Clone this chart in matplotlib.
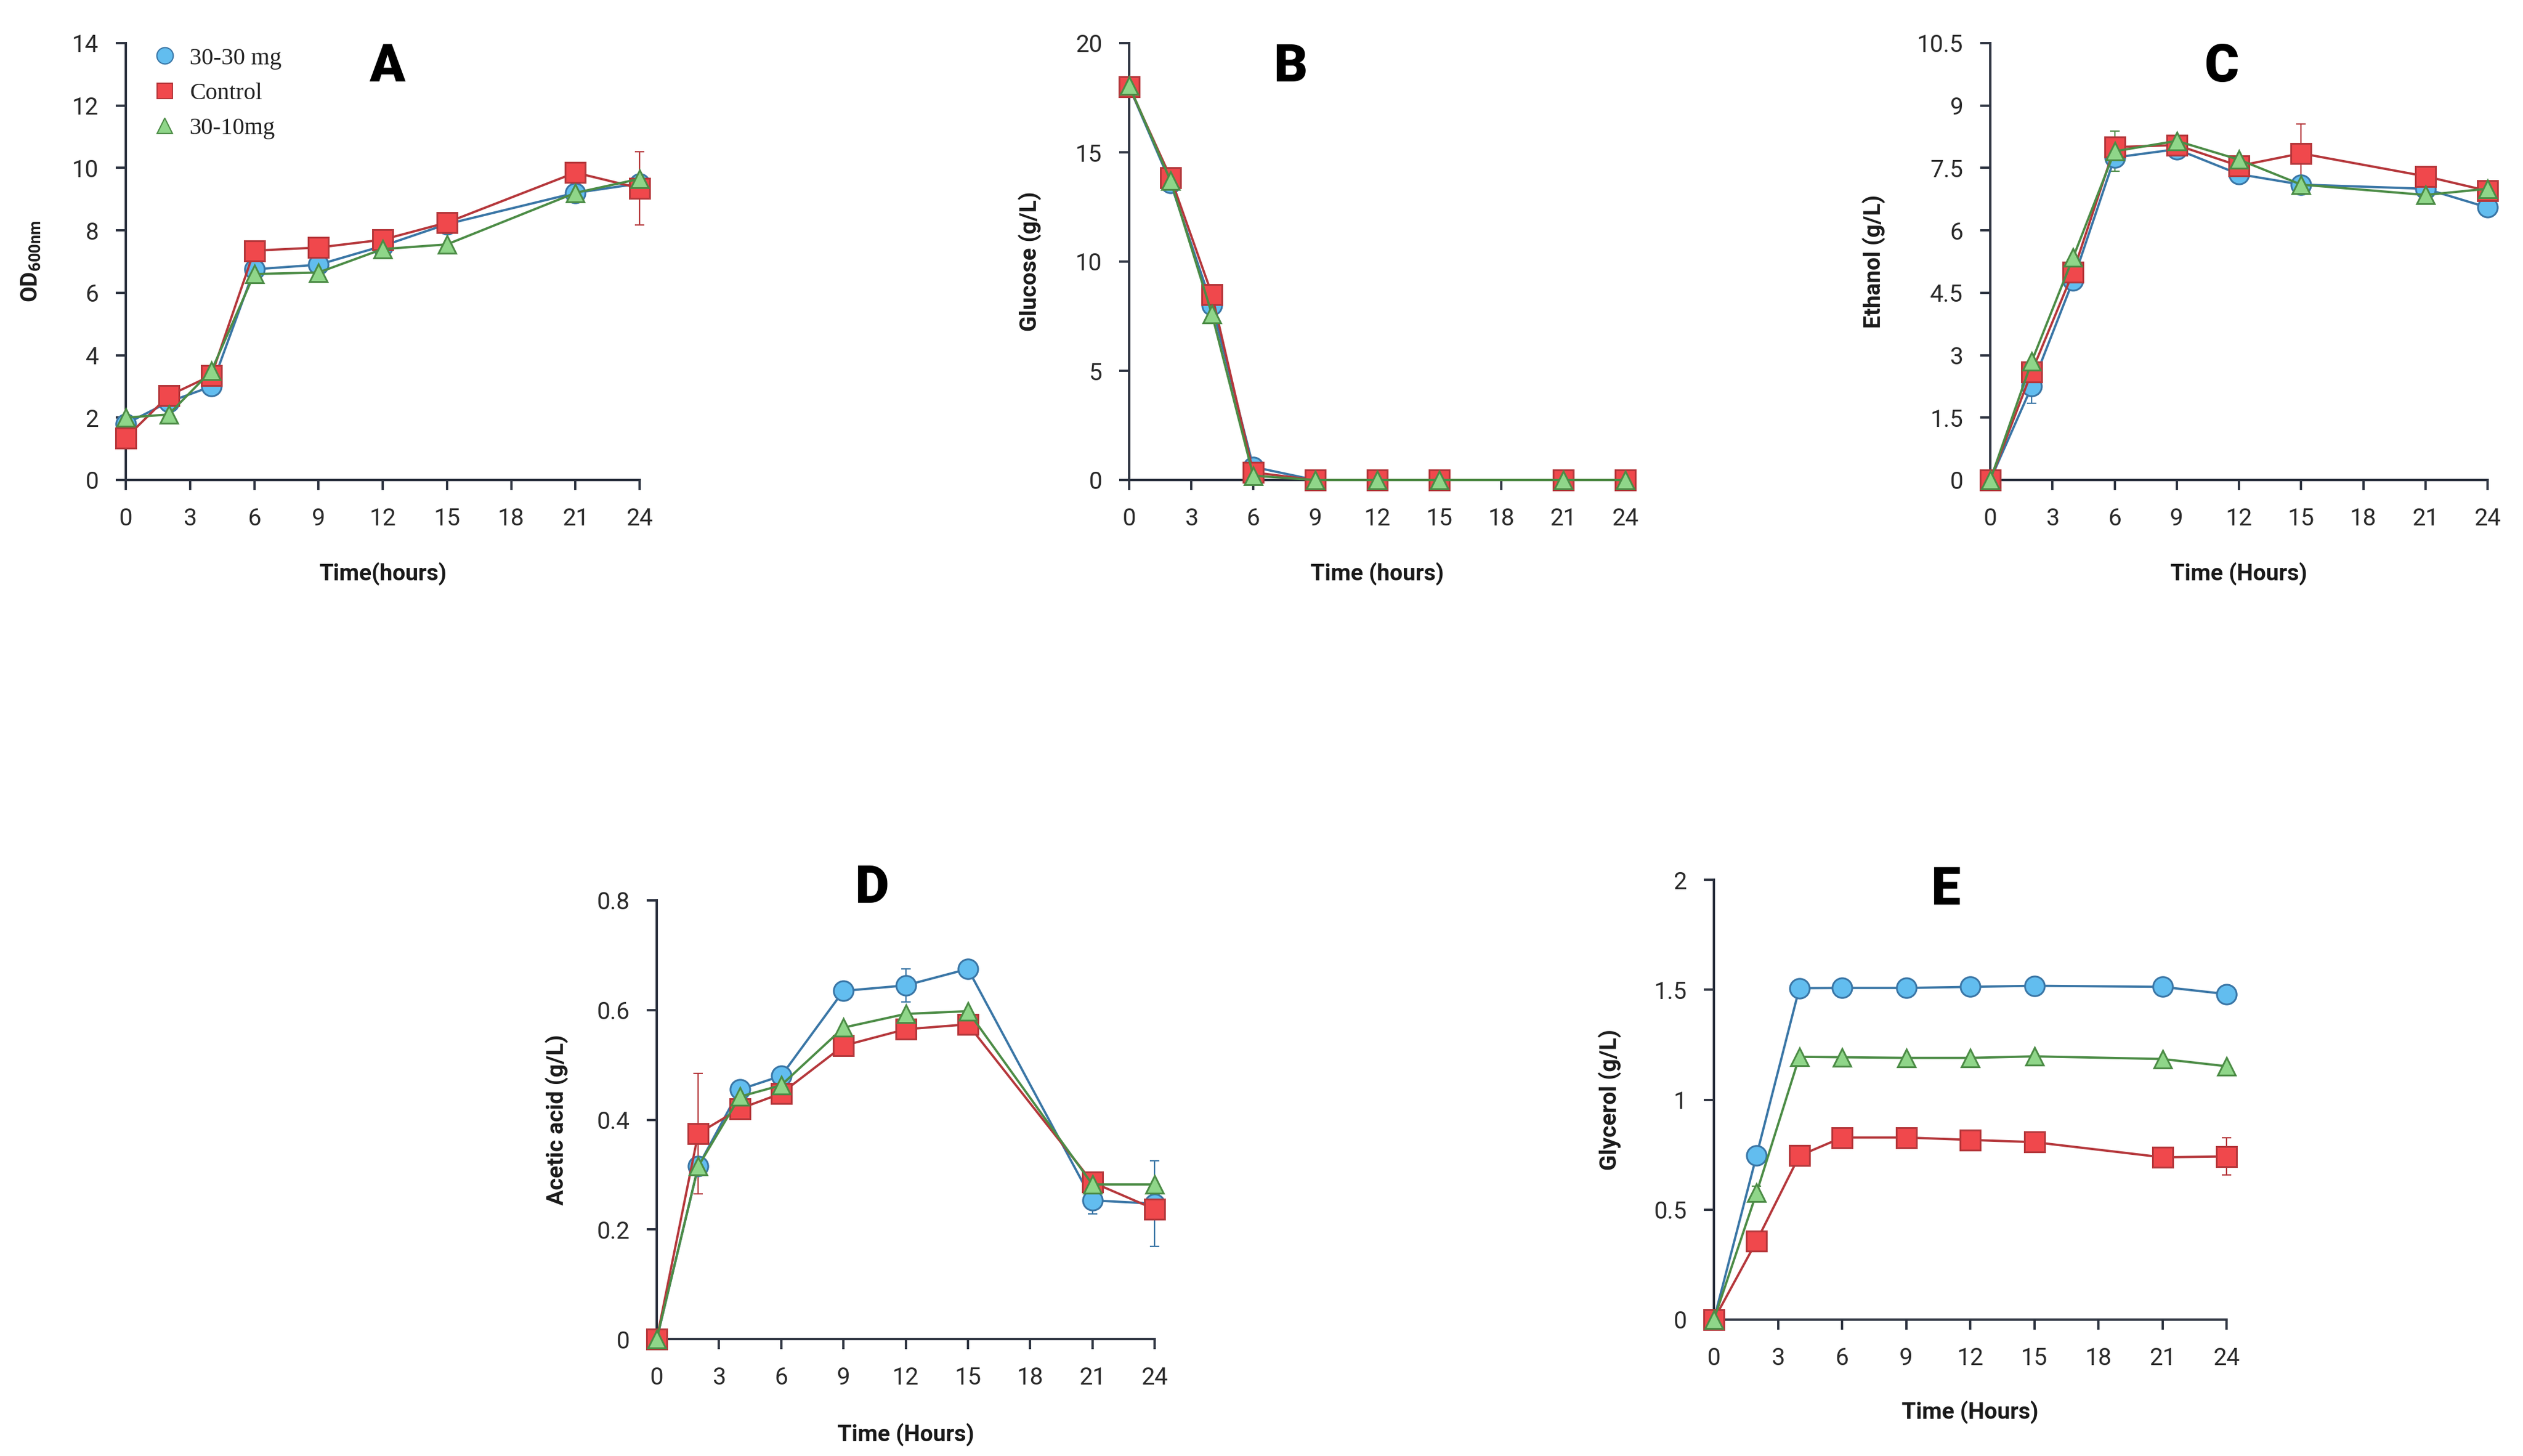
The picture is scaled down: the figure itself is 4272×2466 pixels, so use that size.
import numpy as np
import matplotlib
matplotlib.use('Agg')
import matplotlib.pyplot as plt
from matplotlib.lines import Line2D

nan = np.nan

# ---------------- data ----------------
time_h = [0, 2, 4, 6, 9, 12, 15, 21, 24]
x_ticks = [0, 3, 6, 9, 12, 15, 18, 21, 24]
series_names = ['30-30 mg', 'Control', '30-10mg']

# A: OD600
od_3030 = [1.8, 2.5, 3.0, 6.75, 6.9, 7.5, 8.2, 9.2, 9.5]
od_control = [1.35, 2.7, 3.35, 7.35, 7.45, 7.7, 8.25, 9.85, 9.35]
od_3010 = [2.0, 2.1, 3.5, 6.6, 6.65, 7.4, 7.55, 9.2, 9.65]
od_3030_err = [nan] * 9
od_control_err = [nan, nan, nan, nan, nan, nan, nan, nan, 1.17]
od_3010_err = [nan] * 9

# B: Glucose
glu_3030 = [18.0, 13.6, 8.0, 0.6, 0.0, 0.0, 0.0, 0.0, 0.0]
glu_control = [18.0, 13.85, 8.5, 0.35, 0.0, 0.0, 0.0, 0.0, 0.0]
glu_3010 = [18.05, 13.7, 7.6, 0.2, 0.0, 0.0, 0.0, 0.0, 0.0]
glu_3030_err = [nan] * 9
glu_control_err = [nan] * 9
glu_3010_err = [nan] * 9

# C: Ethanol
eth_3030 = [0.0, 2.25, 4.8, 7.75, 7.95, 7.35, 7.1, 7.0, 6.55]
eth_control = [0.0, 2.6, 5.0, 8.0, 8.05, 7.55, 7.85, 7.3, 6.95]
eth_3010 = [0.0, 2.85, 5.35, 7.9, 8.15, 7.7, 7.1, 6.85, 7.0]
eth_3030_err = [nan, 0.4, nan, nan, nan, 0.1, nan, nan, nan]
eth_control_err = [nan, nan, nan, nan, nan, nan, 0.7, nan, nan]
eth_3010_err = [nan, nan, nan, 0.48, nan, nan, nan, nan, nan]

# D: Acetic acid
ace_3030 = [0.0, 0.315, 0.455, 0.48, 0.635, 0.645, 0.675, 0.253, 0.247]
ace_control = [0.0, 0.375, 0.42, 0.448, 0.535, 0.565, 0.574, 0.286, 0.237]
ace_3010 = [0.0, 0.315, 0.442, 0.463, 0.568, 0.593, 0.598, 0.282, 0.282]
ace_3030_err = [nan, nan, nan, nan, nan, 0.03, nan, 0.025, 0.078]
ace_control_err = [nan, 0.11, nan, nan, nan, nan, nan, nan, nan]
ace_3010_err = [nan] * 9

# E: Glycerol
gly_3030 = [0.0, 0.747, 1.507, 1.508, 1.508, 1.513, 1.518, 1.513, 1.48]
gly_control = [0.0, 0.357, 0.745, 0.828, 0.828, 0.817, 0.807, 0.738, 0.742]
gly_3010 = [0.0, 0.577, 1.195, 1.193, 1.19, 1.19, 1.197, 1.185, 1.152]
gly_3030_err = [nan] * 9
gly_control_err = [nan, nan, nan, nan, nan, nan, nan, nan, 0.085]
gly_3010_err = [nan, 0.03, nan, nan, nan, nan, nan, nan, nan]

# ---------------- style ----------------
plt.rcParams['font.family'] = ['Roboto', 'DejaVu Sans']
plt.rcParams['mathtext.fontset'] = 'custom'
plt.rcParams['mathtext.rm'] = 'Roboto'
plt.rcParams['mathtext.bf'] = 'Roboto:bold'

line_cols = ['#3a76a6', '#b5373b', '#4c8c46']
fill_cols = ['#62bdef', '#f0484c', '#8fd689']
markers = ['o', 's', '^']
msizes = [24, 24.5, 22]
axis_col = '#2d3340'
text_col = '#2a2a2a'

W, H = 4272, 2466
fig = plt.figure(figsize=(W / 100, H / 100), dpi=100)


def add_axes_px(left, right, top, bottom):
    return fig.add_axes([left / W, 1 - bottom / H, (right - left) / W, (bottom - top) / H])


panels = [
    dict(box=(213, 1083, 73, 813), data=[od_3030, od_control, od_3010],
         err=[od_3030_err, od_control_err, od_3010_err],
         yticks=[0, 2, 4, 6, 8, 10, 12, 14], ytl=['0', '2', '4', '6', '8', '10', '12', '14'],
         ylabel=r'$\mathbf{OD_{600nm}}$', xlabel='Time(hours)', letter='A',
         lpos=(0.508, 0.945), ylx=-0.162, xly=-0.189),
    dict(box=(1912, 2752, 73, 813), data=[glu_3030, glu_control, glu_3010],
         err=[glu_3030_err, glu_control_err, glu_3010_err],
         yticks=[0, 5, 10, 15, 20], ytl=['0', '5', '10', '15', '20'],
         ylabel='Glucose (g/L)', xlabel='Time (hours)', letter='B',
         lpos=(0.325, 0.945), ylx=-0.176, xly=-0.189),
    dict(box=(3370, 4212, 73, 813), data=[eth_3030, eth_control, eth_3010],
         err=[eth_3030_err, eth_control_err, eth_3010_err],
         yticks=[0, 1.5, 3, 4.5, 6, 7.5, 9, 10.5],
         ytl=['0', '1.5', '3', '4.5', '6', '7.5', '9', '10.5'],
         ylabel='Ethanol (g/L)', xlabel='Time (Hours)', letter='C',
         lpos=(0.466, 0.945), ylx=-0.21, xly=-0.189),
    dict(box=(1112, 1955, 1525, 2268), data=[ace_3030, ace_control, ace_3010],
         err=[ace_3030_err, ace_control_err, ace_3010_err],
         yticks=[0, 0.2, 0.4, 0.6, 0.8], ytl=['0', '0.2', '0.4', '0.6', '0.8'],
         ylabel='Acetic acid (g/L)', xlabel='Time (Hours)', letter='D',
         lpos=(0.432, 1.027), ylx=-0.177, xly=-0.192),
    dict(box=(2902, 3770, 1490, 2235), data=[gly_3030, gly_control, gly_3010],
         err=[gly_3030_err, gly_control_err, gly_3010_err],
         yticks=[0, 0.5, 1, 1.5, 2], ytl=['0', '0.5', '1', '1.5', '2'],
         ylabel='Glycerol (g/L)', xlabel='Time (Hours)', letter='E',
         lpos=(0.452, 0.976), ylx=-0.18, xly=-0.185),
]

for p in panels:
    ax = add_axes_px(*p['box'])
    for i, (ys, es) in enumerate(zip(p['data'], p['err'])):
        ax.errorbar(time_h, ys, yerr=es, fmt='none', ecolor=line_cols[i],
                    elinewidth=1.6, capsize=5.5, capthick=1.6, zorder=2 + i * 0.1,
                    clip_on=False)
        ax.plot(time_h, ys, color=line_cols[i], lw=2.8, marker=markers[i],
                ms=msizes[i], mfc=fill_cols[i], mec=line_cols[i], mew=2.2,
                zorder=3 + i, clip_on=False, label=series_names[i])
    ax.set_xlim(0, 24)
    ax.set_ylim(p['yticks'][0], p['yticks'][-1])
    ax.set_xticks(x_ticks)
    ax.set_xticklabels([str(t) for t in x_ticks])
    ax.set_yticks(p['yticks'])
    ax.set_yticklabels(p['ytl'])
    for s in ['top', 'right']:
        ax.spines[s].set_visible(False)
    for s in ['left', 'bottom']:
        ax.spines[s].set_color(axis_col)
        ax.spines[s].set_linewidth(2.9)
    ax.tick_params(axis='both', direction='out', length=12, width=2.8,
                   color=axis_col, labelsize=29, labelcolor=text_col, pad=21)
    ax.set_ylabel(p['ylabel'], fontsize=28, fontweight='bold', color='#1a1a1a')
    ax.set_xlabel(p['xlabel'], fontsize=28, fontweight='bold', color='#1a1a1a')
    ax.yaxis.set_label_coords(p['ylx'], 0.5)
    ax.xaxis.set_label_coords(0.5, p['xly'])
    ax.text(p['lpos'][0], p['lpos'][1], p['letter'], transform=ax.transAxes,
            fontsize=64, fontweight='black', ha='center', va='center', color='black')
    if p['letter'] == 'A':
        handles = [Line2D([], [], ls='none', marker=markers[i], ms=[20, 19, 19][i],
                          mfc=fill_cols[i], mec=line_cols[i], mew=1.5)
                   for i in range(3)]
        leg = ax.legend(handles, series_names, loc='upper left',
                        bbox_to_anchor=(0.055, 0.99), frameon=False,
                        prop={'family': ['Liberation Serif', 'DejaVu Serif'], 'size': 29},
                        handlelength=0.9, handletextpad=0.6, labelspacing=0.55,
                        borderpad=0, borderaxespad=0)
        for t in leg.get_texts():
            t.set_color('#222222')

fig.savefig('out.png', dpi=100, facecolor='white')
